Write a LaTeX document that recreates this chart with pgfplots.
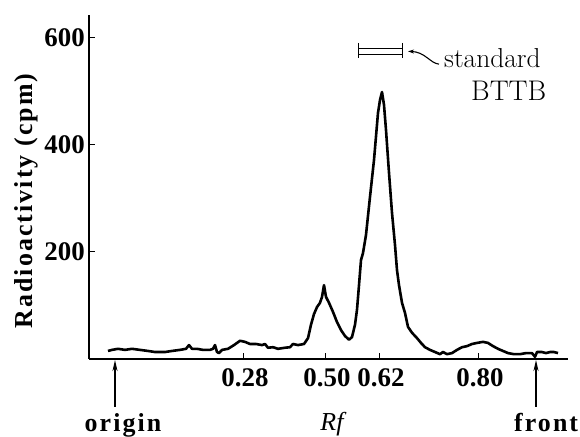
\documentclass[border=0pt]{standalone}
\usepackage{fontspec}
\newfontfamily\tnr{Liberation Serif}
\newfontfamily\tnrsp{Liberation Serif}[LetterSpace=8]
\usepackage{pgfplots}
\pgfplotsset{compat=1.18}
\usetikzlibrary{arrows.meta}
\begin{document}
\begin{tikzpicture}
\begin{axis}[
  scale only axis, width=479bp, height=344bp,
  xmin=89, xmax=568, ymin=0, ymax=643,
  axis x line=bottom, axis y line=left,
  axis line style={-, line width=1.8bp},
  tick align=inside, major tick length=6bp,
  tick style={line width=1bp, black},
  xtick={243,325,379,478}, xticklabels={0.28,0.50,0.62,0.80},
  ytick={200,400,600}, yticklabels={200,400,600},
  ticklabel style={font=\tnr\bfseries\fontsize{27}{27}\selectfont, inner sep=0pt},
  xticklabel style={yshift=-9bp, xshift=2bp},
  yticklabel style={xshift=-4bp},
  clip=false,
]
\addplot[black, line width=2.6bp, line join=round] coordinates {
(108,15) (112,17) (118,19) (125,17) (132,19) (140,17) (148,15) (155,13)
(165,13) (172,15) (180,17) (186,19) (189,26) (192,19) (197,19) (203,17)
(210,17) (213,19) (215,26) (217,13) (219,11) (222,17) (228,19) (234,26)
(240,34) (245,32) (250,28) (256,28) (262,26) (265,28) (268,21) (273,22)
(278,19) (285,21) (290,22) (293,28) (298,26) (304,28) (308,39) (311,64)
(314,84) (317,97) (320,105) (322,116) (324,138) (326,116) (329,105) (333,88)
(337,69) (341,54) (345,43) (349,36) (352,41) (355,64) (357,92) (359,138)
(361,185) (363,198) (366,232) (370,303) (374,372) (378,460) (380,484) (382,499)
(384,475) (386,428) (389,348) (392,273) (395,213) (397,166) (399,138) (402,105)
(405,86) (408,60) (412,49) (417,39) (421,30) (425,22) (430,17) (435,13)
(440,9) (443,13) (447,9) (452,11) (457,17) (462,22) (467,24) (472,28)
(477,30) (483,32) (488,30) (493,24) (498,19) (503,15) (508,11) (514,9)
(520,9) (526,11) (532,11) (535,4) (537,13) (542,13) (546,11) (550,13)
(554,13) (558,11)
};
% standard BTTB bar
\draw[line width=0.9bp] (axis cs:358,581.3) -- (axis cs:402,581.3);
\draw[line width=0.9bp] (axis cs:358,570.1) -- (axis cs:402,570.1);
\draw[line width=0.9bp] (axis cs:358,590.7) -- (axis cs:358,562.7);
\draw[line width=0.9bp] (axis cs:402,590.7) -- (axis cs:402,562.7);
\draw[line width=1.1bp, -{Stealth[length=6bp,width=4bp]}] (axis cs:439,551) .. controls (axis cs:430,553) and (axis cs:425,574) .. (axis cs:408,575);
\node[anchor=base west, inner sep=0pt, font=\fontsize{27.5}{27.5}\selectfont] at (axis cs:444,544) {standard};
\node[anchor=base west, inner sep=0pt, font=\fontsize{28.5}{28.5}\selectfont] at (axis cs:471,484) {BTTB};
% axis label
\node[rotate=90, anchor=base, inner sep=0pt, font=\tnrsp\bfseries\fontsize{26}{26}\selectfont] at (axis cs:33,295.3) {Radioactivity (cpm)};
% origin / front
\draw[line width=1.5bp, -{Stealth[length=11bp,width=5bp]}] (axis cs:115,-89.7) -- (axis cs:115,-2);
\draw[line width=1.5bp, -{Stealth[length=11bp,width=5bp]}] (axis cs:536,-89.7) -- (axis cs:536,-2);
\node[anchor=base, inner sep=0pt, font=\tnrsp\bfseries\fontsize{26}{26}\selectfont] at (axis cs:123,-136.4) {origin};
\node[anchor=base west, inner sep=0pt, font=\tnrsp\bfseries\fontsize{26}{26}\selectfont] at (axis cs:514,-136.4) {front};
\node[anchor=base, inner sep=0pt, font=\tnr\itshape\fontsize{26}{26}\selectfont] at (axis cs:332,-134.6) {Rf};
\coordinate (bbsw) at (axis cs:0,-145.8);
\coordinate (bbne) at (axis cs:580,671.0);
\end{axis}
\pgfresetboundingbox
\path[use as bounding box] (bbsw) rectangle (bbne);
\end{tikzpicture}
\end{document}
